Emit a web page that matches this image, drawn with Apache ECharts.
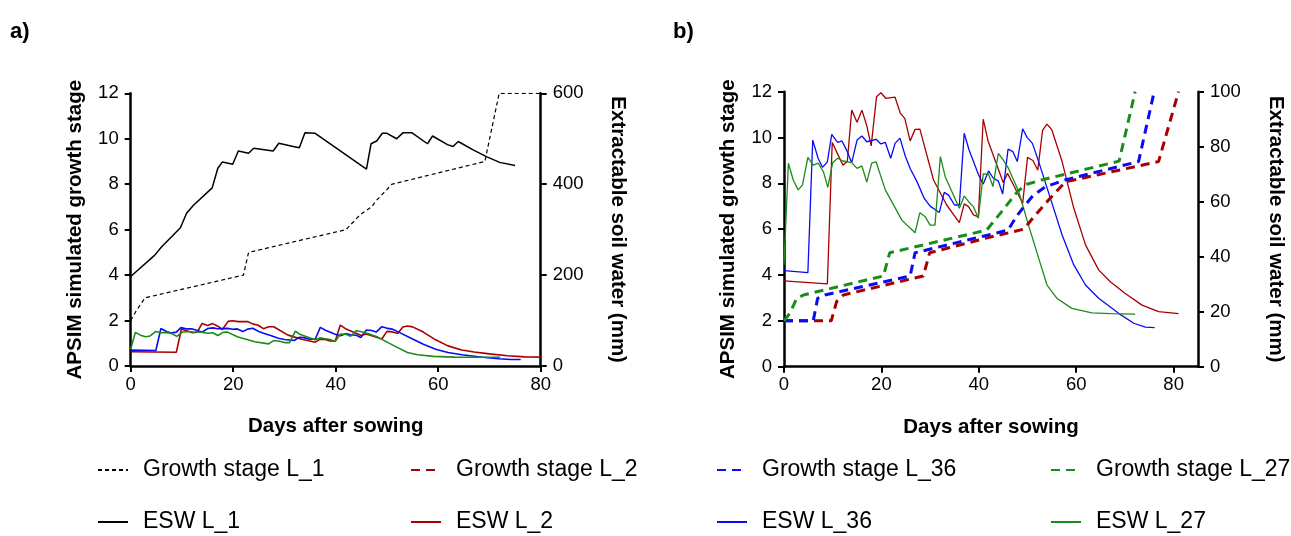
<!DOCTYPE html>
<html>
<head>
<meta charset="utf-8">
<script src="https://cdn.jsdelivr.net/npm/echarts@6/dist/echarts.min.js"></script>
<style>html,body{margin:0;padding:0;background:#fff}#c{width:1291px;height:536px}</style>
</head>
<body>
<div id="c"></div>
<script>
// ---- Data (days after sowing, value) ----
var xTicksA = [0, 20, 40, 60, 80];
var xTicksB = [0, 20, 40, 60, 80];

// Panel a: growth stage L_1 (left axis)
var gsL1 = [[0,2],[1,2.4],[2.8,3],[22,4],[23,5],[42,6],[44.7,6.64],[47,7],[48,7.3],[51,8],[69.1,9],[71.9,12],[80,12]];
// Panel a: ESW L_1 (mm, right axis)
var eswL1 = [[0,197],[4.7,244],[6,262],[9.7,304],[10.9,336],[12.2,353],[15.9,392],[17,435],[17.9,449],[19.9,444],[21,473],[23,468],[24,479],[27.8,473],[28.9,490],[31.7,483],[32.9,480],[34,513],[36,512],[46,433],[46.9,489],[48,495],[49.1,512],[50,512],[51.9,500],[53.1,513],[54.9,513],[57.9,489],[58.9,506],[61.8,487],[62.9,483],[63.9,494],[66.9,475],[69.5,460],[72,448],[75,441]];

// Panel b: growth stage (left axis)
var gsL2  = [[0,2],[9.7,2],[10.8,2.84],[12.2,3.13],[28.6,3.96],[29.9,4.97],[41.3,5.6],[49.2,6],[51.9,6.69],[54.3,7.27],[57.8,8.07],[76.9,8.95],[81,12]];
var gsL36 = [[0,2],[6,2],[6.9,2.98],[8.4,3.13],[25.9,3.96],[26.9,4.97],[46,5.96],[47.8,6.58],[49,6.91],[51.2,7.49],[53.7,7.85],[57.7,8.15],[72.8,8.95],[76,12]];
var gsL27 = [[0,2],[1.2,2.33],[2.6,2.98],[4,3.13],[20.4,3.96],[21.7,4.97],[41.6,5.96],[44.4,6.69],[48,7.66],[49.9,7.96],[52.9,8.15],[68.8,8.97],[72.1,12]];

// Extractable soil water (mm)
var eswL2 = [[0,31.2],[8.9,30.1],[9.9,81.5],[12.1,73.3],[13,74.6],[13.9,93.3],[15,88.9],[16,93.3],[17,87.6],[17.9,80.3],[19,98.2],[19.9,99.6],[20.9,97.6],[22.8,98],[23.9,92.1],[24.8,90.3],[25.9,82.1],[26.9,86.3],[27.9,86.4],[30.7,67.9],[33.4,58.8],[36,52.4],[37,59.2],[37.9,58.2],[38.9,55.2],[39.9,54.5],[40.9,90],[41.9,82.1],[45,67],[45.9,70.3],[47.2,65.8],[49,59.4],[50,76.1],[51.1,75],[52.1,71.5],[53.1,86],[54,88.2],[55,86.1],[57.1,74.6],[59.5,57.6],[61.9,44.3],[64.6,35.2],[67,30.9],[70,26.7],[73.5,22.4],[76.9,20],[81,19.3]];
var eswL36 = [[0,34.9],[4.9,34.2],[5.9,82.4],[7,75.8],[7.9,72.5],[8.9,74.5],[9.8,84.5],[11,81.6],[11.9,82.1],[13,78.2],[13.9,74.2],[15,82.4],[16,83.9],[17,81.8],[18.9,82.7],[19.9,81],[20.8,81.6],[21.9,75.8],[22.8,81.2],[23.8,83.1],[24.9,76.6],[25.9,72.1],[27.3,67.3],[28.8,61.2],[30,58.4],[31.9,56.1],[32.9,63.4],[33.8,62.4],[35,58.8],[36,58.8],[37,84.9],[38,78.8],[39.9,70],[40.9,66.4],[42,71.2],[42.9,68.7],[44,67.5],[44.9,62.8],[46,79.1],[47,78.2],[47.9,74.6],[49,86.5],[49.9,83.4],[51,81.2],[52.3,74.5],[54.7,61.2],[57.1,47.9],[59.5,37],[61.9,29.7],[64.6,24.9],[68.7,19.4],[71.8,15.8],[74.2,14.4],[76.1,14.2]];
var eswL27 = [[0,37],[0.9,74],[1.9,67.9],[2.9,64.3],[3.8,66.1],[4.9,76.1],[6,73.3],[7,74],[8.1,70.9],[9,65.2],[10,74.2],[11,75.8],[12.1,74.8],[13.9,74.2],[15,72.1],[16,73],[17,67.1],[18,74],[18.9,74.5],[20.8,64.3],[24.2,53.3],[26.9,48.7],[27.9,56],[29,54.5],[30,51.5],[31,51.5],[32.1,76.4],[33.1,69.1],[36,57.6],[37,62.1],[38.1,59.6],[38.9,58.2],[39.9,54],[40.9,70.1],[42,70],[42.9,65.5],[44,77.6],[45,75.2],[46.1,72.1],[48.2,63.6],[50.2,51.5],[52.3,39.4],[54,29.7],[56,24.9],[59.1,21.2],[63.2,19.6],[67,19.3],[72.1,19.1]];

var names = {
  gs1:'Growth stage L_1', gs2:'Growth stage L_2', gs36:'Growth stage L_36', gs27:'Growth stage L_27',
  e1:'ESW L_1', e2:'ESW L_2', e36:'ESW L_36', e27:'ESW L_27'
};

var FONT = '"Liberation Sans", Arial, sans-serif';
var RED = '#A80000', BLUE = '#0A0AF5', GREEN = '#1A8C1A', BLACK = '#000';

var axisLine = {show:true, onZero:false, lineStyle:{color:'#000', width:2.5}};
var axisTick = {show:true, inside:false, length:6, lineStyle:{color:'#000', width:2}};
var lab = {color:'#000', fontSize:18.5, fontFamily:FONT};
var nameTS = {color:'#000', fontSize:20.5, fontWeight:'bold', fontFamily:FONT};

function ln(name, data, xi, yi, color, width, dash){
  return {name:name, type:'line', data:data, xAxisIndex:xi, yAxisIndex:yi, symbol:'none',
    smooth:false, animation:false, clip:true,
    lineStyle:{color:color, width:width, type: dash || 'solid', cap:'butt'},
    itemStyle:{color:color}};
}

var legendBase = {orient:'vertical', itemWidth:30, itemHeight:14, itemGap:26, padding:0, selectedMode:false,
  itemStyle:{opacity:0},
  textStyle:{color:'#000', fontSize:23, lineHeight:26, fontFamily:FONT, padding:[0,0,0,10]}};
function lg(data, left){ return Object.assign({}, legendBase, {data:data, left:left, top:457}); }

var option = {
  backgroundColor:'#fff',
  animation:false,
  title:[
    {text:'a)', left:5, top:16, textStyle:{fontSize:22, fontWeight:'bold', color:'#000', fontFamily:FONT}},
    {text:'b)', left:668, top:16, textStyle:{fontSize:22, fontWeight:'bold', color:'#000', fontFamily:FONT}}
  ],
  legend:[
    lg([names.gs1, names.e1], 97),
    lg([names.gs2, names.e2], 410),
    lg([names.gs36, names.e36], 716),
    lg([names.gs27, names.e27], 1050)
  ],
  grid:[
    {left:130.7, right:750.3, top:93.3, bottom:170, containLabel:false},
    {left:784, right:93, top:91.7, bottom:169.3, containLabel:false}
  ],
  xAxis:[
    {type:'value', gridIndex:0, min:0, max:80, interval:20, axisLine:axisLine, axisTick:axisTick,
     axisLabel:Object.assign({margin:9, customValues:xTicksA}, lab), splitLine:{show:false},
     name:'Days after sowing', nameLocation:'middle', nameGap:50, nameTextStyle:nameTS},
    {type:'value', gridIndex:1, min:0, max:85, interval:20, axisLine:axisLine,
     axisTick:Object.assign({customValues:xTicksB}, axisTick),
     axisLabel:Object.assign({margin:9, customValues:xTicksB}, lab), splitLine:{show:false},
     name:'Days after sowing', nameLocation:'middle', nameGap:50, nameTextStyle:nameTS}
  ],
  yAxis:[
    {type:'value', gridIndex:0, position:'left', min:0, max:12, interval:2, axisLine:axisLine, axisTick:axisTick,
     axisLabel:Object.assign({margin:12}, lab), splitLine:{show:false},
     name:'APSIM simulated growth stage', nameLocation:'middle', nameGap:45, nameRotate:90, nameTextStyle:nameTS},
    {type:'value', gridIndex:0, position:'right', min:0, max:600, interval:200, axisLine:axisLine, axisTick:axisTick,
     axisLabel:Object.assign({margin:12}, lab), splitLine:{show:false},
     name:'Extractable soil water (mm)', nameLocation:'middle', nameGap:66, nameRotate:-90, nameTextStyle:nameTS},
    {type:'value', gridIndex:1, position:'left', min:0, max:12, interval:2, axisLine:axisLine, axisTick:axisTick,
     axisLabel:Object.assign({margin:12}, lab), splitLine:{show:false},
     name:'APSIM simulated growth stage', nameLocation:'middle', nameGap:45, nameRotate:90, nameTextStyle:nameTS},
    {type:'value', gridIndex:1, position:'right', min:0, max:100, interval:20, axisLine:axisLine, axisTick:axisTick,
     axisLabel:Object.assign({margin:12}, lab), splitLine:{show:false},
     name:'Extractable soil water (mm)', nameLocation:'middle', nameGap:67, nameRotate:-90, nameTextStyle:nameTS}
  ],
  series:[
    // Panel a
    ln(names.e2, eswL2, 0, 1, RED, 1.6),
    ln(names.e36, eswL36, 0, 1, BLUE, 1.6),
    ln(names.e27, eswL27, 0, 1, GREEN, 1.6),
    ln(names.gs1, gsL1, 0, 0, BLACK, 1.2, [4,3]),
    ln(names.e1, eswL1, 0, 1, BLACK, 1.5),
    // Panel b
    ln(names.e2, eswL2, 1, 3, RED, 1.3),
    ln(names.e36, eswL36, 1, 3, BLUE, 1.3),
    ln(names.e27, eswL27, 1, 3, GREEN, 1.3),
    ln(names.gs2, gsL2, 1, 2, RED, 3, [9,6]),
    ln(names.gs36, gsL36, 1, 2, BLUE, 3, [9,6]),
    ln(names.gs27, gsL27, 1, 2, GREEN, 3, [9,6])
  ]
};

var chart = echarts.init(document.getElementById('c'), null, {renderer:'canvas'});
chart.setOption(option);
</script>
</body>
</html>
